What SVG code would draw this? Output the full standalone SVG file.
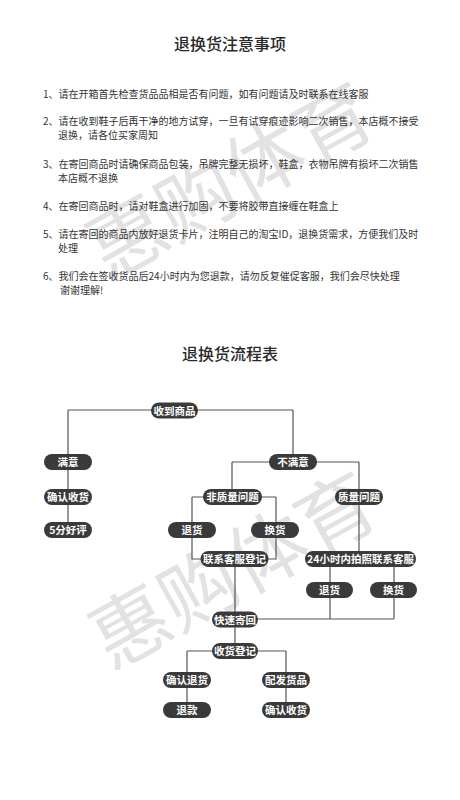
<svg xmlns="http://www.w3.org/2000/svg" width="460" height="800" viewBox="0 0 460 800">
<style>
.bg{fill:#ffffff}
.wm{font-family:"Noto Sans CJK SC","Noto Sans",sans-serif;font-size:78px;font-weight:normal;fill:#e2e2e2;text-anchor:middle}
.title{font-family:"Noto Sans CJK SC","Noto Sans",sans-serif;font-size:16px;font-weight:500;fill:#2a2a2a;text-anchor:middle}
.body{font-family:"Noto Sans CJK SC","Noto Sans",sans-serif;font-size:10px;fill:#333333}
.node rect{fill:#3a3a3a}
.node text{font-family:"Noto Sans CJK SC","Noto Sans",sans-serif;font-size:10.5px;font-weight:bold;fill:#ffffff;text-anchor:middle}
.conn path{fill:none;stroke:#555555;stroke-width:1.2}
</style>
<rect class="bg" x="0" y="0" width="460" height="800"/>
<g id="watermarks">
<text class="wm" transform="translate(244,205) rotate(-29)">惠购体育</text>
<text class="wm" transform="translate(247,595) rotate(-29)">惠购体育</text>
</g>
<text class="title" x="230" y="50">退换货注意事项</text>
<g id="notes" class="body">
<text x="43" y="97.5">1、请在开箱首先检查货品品相是否有问题，如有问题请及时联系在线客服</text>
<text x="43" y="125">2、请在收到鞋子后再干净的地方试穿，一旦有试穿痕迹影响二次销售，本店概不接受</text>
<text x="58" y="139">退换，请各位买家周知</text>
<text x="43" y="167.5">3、在寄回商品时请确保商品包装，吊牌完整无损坏，鞋盒，衣物吊牌有损坏二次销售</text>
<text x="58" y="181.5">本店概不退换</text>
<text x="43" y="209.5">4、在寄回商品时，请对鞋盒进行加固，不要将胶带直接缠在鞋盒上</text>
<text x="43" y="237.5">5、请在寄回的商品内放好退货卡片，注明自己的淘宝ID，退换货需求，方便我们及时</text>
<text x="58" y="251.5">处理</text>
<text x="43" y="279.5">6、我们会在签收货品后24小时内为您退款，请勿反复催促客服，我们会尽快处理</text>
<text x="60" y="293.5">谢谢理解!</text>
</g>
<text class="title" x="230" y="360">退换货流程表</text>
<g id="connectors" class="conn">
<path d="M68,410 H293 M68,410 V530 M293,410 V462"/>
<path d="M232,462 H359 M232,462 V497 M359,462 V559"/>
<path d="M192,497 H276 M192,497 V559 H276 V497"/>
<path d="M330,559 V619 M394,559 V619 M235,619 H394"/>
<path d="M235,559 V651"/>
<path d="M187,651 H286 M187,651 V710 M286,651 V710"/>
</g>
<g id="n-receive" class="node"><rect x="151" y="402.5" width="47" height="16" rx="8"/><text x="174.5" y="414.5">收到商品</text></g>
<g id="n-satisfied" class="node"><rect x="44" y="454" width="48" height="16" rx="8"/><text x="68" y="466">满意</text></g>
<g id="n-unsatisfied" class="node"><rect x="269" y="454" width="48" height="16" rx="8"/><text x="293" y="466">不满意</text></g>
<g id="n-confirm1" class="node"><rect x="44" y="489" width="48" height="16" rx="8"/><text x="68" y="501">确认收货</text></g>
<g id="n-review" class="node"><rect x="44" y="522" width="48" height="16" rx="8"/><text x="68" y="534">5分好评</text></g>
<g id="n-nonquality" class="node"><rect x="203" y="489" width="59" height="16" rx="8"/><text x="232.5" y="501">非质量问题</text></g>
<g id="n-quality" class="node"><rect x="335" y="489" width="48" height="16" rx="8"/><text x="359" y="501">质量问题</text></g>
<g id="n-return1" class="node"><rect x="168" y="522" width="48" height="16" rx="8"/><text x="192" y="534">退货</text></g>
<g id="n-exchange1" class="node"><rect x="251" y="522" width="48" height="16" rx="8"/><text x="275" y="534">换货</text></g>
<g id="n-contact" class="node"><rect x="200.5" y="551" width="68" height="16" rx="8"/><text x="234.5" y="563">联系客服登记</text></g>
<g id="n-photo" class="node"><rect x="305" y="551" width="111" height="16" rx="8"/><text x="360.5" y="563">24小时内拍照联系客服</text></g>
<g id="n-return2" class="node"><rect x="306" y="582" width="47" height="16" rx="8"/><text x="329.5" y="594">退货</text></g>
<g id="n-exchange2" class="node"><rect x="370" y="582" width="47" height="16" rx="8"/><text x="393.5" y="594">换货</text></g>
<g id="n-ship" class="node"><rect x="212" y="611.5" width="46" height="16" rx="8"/><text x="235" y="623.5">快速寄回</text></g>
<g id="n-register" class="node"><rect x="212" y="643" width="46" height="16" rx="8"/><text x="235" y="655">收货登记</text></g>
<g id="n-confirmreturn" class="node"><rect x="163" y="672" width="48" height="16" rx="8"/><text x="187" y="684">确认退货</text></g>
<g id="n-dispatch" class="node"><rect x="262" y="672" width="48" height="16" rx="8"/><text x="286" y="684">配发货品</text></g>
<g id="n-refund" class="node"><rect x="163" y="702" width="48" height="16" rx="8"/><text x="187" y="714">退款</text></g>
<g id="n-confirm2" class="node"><rect x="262" y="702" width="48" height="16" rx="8"/><text x="286" y="714">确认收货</text></g>
</svg>
